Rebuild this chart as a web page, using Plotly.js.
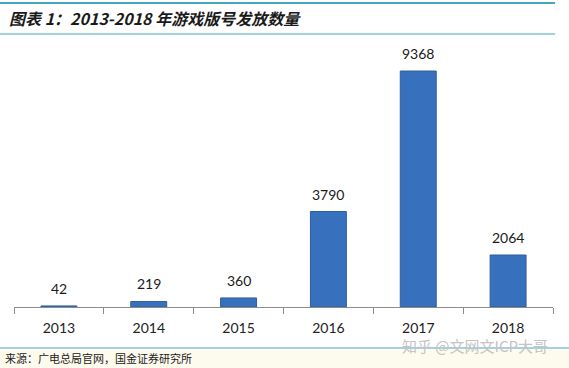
<!DOCTYPE html>
<html>
<head>
<meta charset="utf-8">
<script src="https://cdn.plot.ly/plotly-3.0.1.min.js"></script>
<style>html,body{margin:0;padding:0;background:#fff;}#chart{width:569px;height:368px;}</style>
</head>
<body>
<div id="chart"></div>
<script>
const years = ['2013', '2014', '2015', '2016', '2017', '2018'];
const approvals = [42, 219, 360, 3790, 9368, 2064];
const titleText = '图表 1：2013-2018 年游戏版号发放数量';
const sourceText = '来源：广电总局官网，国金证券研究所';
const watermarkText = '知乎 @文网文ICP大哥';

const teal = '#45a7bb';
const cjk = '"Noto Sans CJK SC", "Noto Sans", sans-serif';
const numFont = 'Lato, "Open Sans", sans-serif';

const trace = {
  type: 'bar',
  x: years,
  y: approvals,
  marker: {color: '#3771BD', line: {color: '#2d5e9f', width: 1}},
  hoverinfo: 'skip'
};

// category axis: annotation x given as category index
const valueLabels = years.map((yr, i) => ({
  x: i, y: approvals[i], xref: 'x', yref: 'y',
  text: String(approvals[i]), showarrow: false,
  yanchor: 'bottom', yshift: 7,
  font: {family: numFont, size: 14, color: '#1a1a1a'}
}));

const layout = {
  width: 569,
  height: 368,
  margin: {l: 14, r: 16, t: 40, b: 61},
  paper_bgcolor: '#ffffff',
  plot_bgcolor: '#ffffff',
  showlegend: false,
  bargap: 0.6,
  xaxis: {
    type: 'category',
    range: [-0.5, years.length - 0.5],
    showline: true,
    linecolor: '#8c8c8c',
    linewidth: 1,
    ticks: 'outside',
    tickson: 'boundaries',
    ticklen: 6,
    tickcolor: '#8c8c8c',
    ticklabelstandoff: 8,
    showgrid: false,
    tickfont: {family: numFont, size: 14, color: '#222'},
    fixedrange: true
  },
  yaxis: {
    range: [0, 10600],
    visible: false,
    showgrid: false,
    zeroline: false,
    fixedrange: true
  },
  shapes: [
    {type: 'rect', xref: 'paper', yref: 'paper', x0: -0.03, x1: 1.04, y0: -0.16, y1: -0.23, fillcolor: '#fdfaee', line: {width: 0}, layer: 'below'},
    {type: 'line', xref: 'paper', yref: 'paper', x0: -0.026, x1: 1.004, y0: 1.139, y1: 1.139, line: {color: teal, width: 2}},
    {type: 'line', xref: 'paper', yref: 'paper', x0: -0.026, x1: 1.004, y0: 1.0225, y1: 1.0225, line: {color: teal, width: 1.2}},
    {type: 'line', xref: 'paper', yref: 'paper', x0: -0.026, x1: 1.03, y0: -0.1536, y1: -0.1536, line: {color: teal, width: 1}}
  ],
  annotations: valueLabels.concat([
    {xref: 'paper', yref: 'paper', x: -0.013, y: 1.082, xanchor: 'left', yanchor: 'middle', showarrow: false,
     text: '<b><i>' + titleText + '</i></b>', font: {family: cjk, size: 16, color: '#1a1a1a'}},
    {xref: 'paper', yref: 'paper', x: -0.02, y: -0.19, xanchor: 'left', yanchor: 'middle', showarrow: false,
     text: sourceText, font: {family: cjk, size: 11, color: '#1a1a1a'}},
    {xref: 'paper', yref: 'paper', x: 0.855, y: -0.146, xanchor: 'center', yanchor: 'middle', showarrow: false,
     text: watermarkText, font: {family: cjk, size: 15, color: '#c4c4c4'}}
  ])
};

Plotly.newPlot('chart', [trace], layout, {displayModeBar: false, staticPlot: true});
</script>
</body>
</html>
